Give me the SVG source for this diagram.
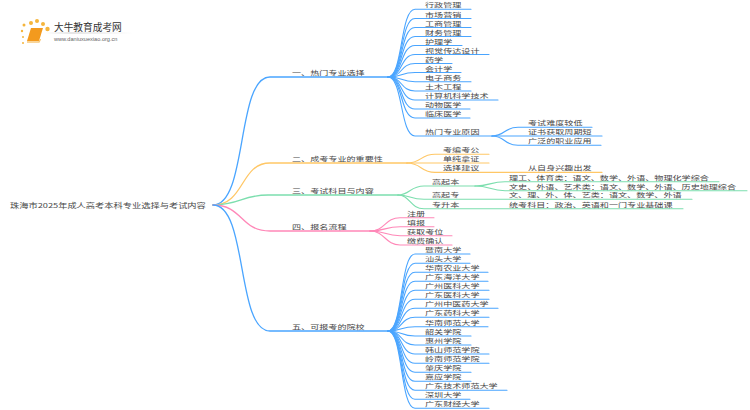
<svg xmlns="http://www.w3.org/2000/svg" width="750" height="410" viewBox="0 0 750 410">
<style>
text{font-family:"Noto Sans CJK SC","Liberation Sans",sans-serif;font-size:9.1px;fill:#4a4a4a}
#connectors path{fill:none;stroke-width:1.1;stroke-linecap:round}
.b path,path.b{stroke:#4aa5ff}
.o path,path.o{stroke:#ffc766}
.g path,path.g{stroke:#7cdeae}
.p path,path.p{stroke:#ff88b8}
#connectors .t{stroke-width:1.3}
#logo .d{fill:#f5b53c}
</style>
<rect width="750" height="410" fill="#fff"/>
<defs><linearGradient id="fade"><stop offset="0" stop-color="#ccc" stop-opacity="0"/><stop offset=".3" stop-color="#ccc"/><stop offset="1" stop-color="#ccc" stop-opacity="0"/></linearGradient></defs>
<g id="logo">
<circle class="d" cx="22" cy="31" r="1.2"/><circle class="d" cx="23" cy="37" r="1"/><circle class="d" cx="24" cy="25" r="1.5"/><circle class="d" cx="31" cy="23" r="2"/><circle class="d" cx="37" cy="21" r="2"/><circle class="d" cx="43" cy="24" r="2"/><circle class="d" cx="47.500" cy="29" r="2.200"/><circle class="d" cx="23" cy="43" r="1"/>
<path d="M31 28H43L39 41H27Z" fill="#f39a1e"/><path d="M27 42H39L40.500 39" fill="none" stroke="#f7c878" stroke-width="1.500"/>
<rect x="45" y="32.500" width="88" height="1" fill="url(#fade)"/>
<text transform="translate(54 31)" style="font-size:9.700px;fill:#333">大牛教育成考网</text>
<text transform="translate(54 41)" style="font-size:5.600px;font-family:'Liberation Sans',sans-serif;fill:#666">www.daniuxuexiao.org.cn</text>
</g>
<g id="connectors">
<g class="t">
<path class="b t" d="M213 205C248 205 236 77 270 77H388"/>
<path class="o t" d="M213 205C245 205 240 163 270 163H407"/>
<path class="g t" d="M213 205C240 205 242 195 268 195H398"/>
<path class="p t" d="M213 205C243 205 240 231 270 231H370"/>
<path class="b t" d="M213 205C248 205 236 331 270 331H388"/>
</g>
<g class="b">
<path d="M388 77C403 77 400 9.300 415 9.300H471"/><path d="M388 77C403 77 400 18.500 415 18.500H471"/><path d="M388 77C403 77 400 27.500 415 27.500H471"/><path d="M388 77C403 77 400 36.500 415 36.500H471"/><path d="M388 77C403 77 400 45.500 415 45.500H462"/><path d="M388 77C403 77 400 54.500 415 54.500H489"/><path d="M388 77C403 77 400 63.500 415 63.500H452"/><path d="M388 77C403 77 400 72.500 415 72.500H461"/><path d="M388 77C403 77 400 81.700 415 81.700H471"/><path d="M388 77C403 77 400 91 415 91H471"/><path d="M388 77C403 77 400 100 415 100H498"/><path d="M388 77C403 77 400 109 415 109H470"/><path d="M388 77C403 77 400 118 415 118H470"/><path d="M388 77C403 77 400 136 415 136H492"/>
<path d="M492 136C505 136 504 127.300 518 127.300H592"/><path d="M492 136H602"/><path d="M492 136C505 136 504 145.300 518 145.300H601"/>
</g>
<g class="o">
<path d="M407 163C422 163 420 154.300 435 154.300H489"/><path d="M407 163H489"/><path d="M407 163C422 163 420 172.400 435 172.400H602"/>
</g>
<g class="g">
<path d="M398 195C410 195 410 186 424 186H475"/><path d="M398 195C410 195 410 199.300 424 199.300H692"/><path d="M398 195C410 195 410 208.700 424 208.700H683"/>
<path d="M475 186C490 186 490 181.700 505 181.700H719"/><path d="M475 186C490 186 490 190.700 505 190.700H747"/>
</g>
<g class="p">
<path d="M370 231C385 231 385 217.700 400 217.700H434"/><path d="M370 231C385 231 385 226.700 400 226.700H434"/><path d="M370 231C385 231 385 235.700 400 235.700H452"/><path d="M370 231C385 231 385 245 400 245H452"/>
</g>
<g class="b">
<path d="M388 331C403 331 400 254 415 254H470"/><path d="M388 331C403 331 400 263.300 415 263.300H470"/><path d="M388 331C403 331 400 272.300 415 272.300H488"/><path d="M388 331C403 331 400 281.300 415 281.300H488"/><path d="M388 331C403 331 400 290.300 415 290.300H489"/><path d="M388 331C403 331 400 299.300 415 299.300H489"/><path d="M388 331C403 331 400 308.300 415 308.300H498"/><path d="M388 331C403 331 400 317.300 415 317.300H489"/><path d="M388 331C403 331 400 326.700 415 326.700H488"/><path d="M388 331C403 331 400 336 415 336H471"/><path d="M388 331C403 331 400 345 415 345H471"/><path d="M388 331C403 331 400 354 415 354H489"/><path d="M388 331C403 331 400 363.300 415 363.300H489"/><path d="M388 331C403 331 400 372.300 415 372.300H471"/><path d="M388 331C403 331 400 381.300 415 381.300H471"/><path d="M388 331C403 331 400 390.300 415 390.300H507"/><path d="M388 331C403 331 400 399.300 415 399.300H470"/><path d="M388 331C403 331 400 408.300 415 408.300H489"/>
</g>
</g>
<g id="root"><text transform="matrix(1 0 0 .68 10 207.800)" style="font-size:9.250px">珠海市2025年成人高考本科专业选择与考试内容</text></g>
<g id="branch-1" transform="translate(0 -1)"><text transform="matrix(1 0 0 .68 292 76)">一、热门专业选择</text>
<text transform="matrix(1 0 0 .68 425 8.300)">行政管理</text><text transform="matrix(1 0 0 .68 425 17.500)">市场营销</text><text transform="matrix(1 0 0 .68 425 26.500)">工商管理</text><text transform="matrix(1 0 0 .68 425 35.500)">财务管理</text><text transform="matrix(1 0 0 .68 425 44.500)">护理学</text><text transform="matrix(1 0 0 .68 425 53.500)">视觉传达设计</text><text transform="matrix(1 0 0 .68 425 62.500)">药学</text><text transform="matrix(1 0 0 .68 425 71.500)">会计学</text><text transform="matrix(1 0 0 .68 425 80.700)">电子商务</text><text transform="matrix(1 0 0 .68 425 90)">土木工程</text><text transform="matrix(1 0 0 .68 425 99)">计算机科学技术</text><text transform="matrix(1 0 0 .68 425 108)">动物医学</text><text transform="matrix(1 0 0 .68 425 117)">临床医学</text><text transform="matrix(1 0 0 .68 425 135)">热门专业原因</text>
<text transform="matrix(1 0 0 .68 528 126.300)">考试难度较低</text><text transform="matrix(1 0 0 .68 528 135.300)">证书获取周期短</text><text transform="matrix(1 0 0 .68 528 144.300)">广泛的职业应用</text></g>
<g id="branch-2" transform="translate(0 -1)"><text transform="matrix(1 0 0 .68 292 162)">二、成考专业的重要性</text>
<text transform="matrix(1 0 0 .68 443 153.300)">考编考公</text><text transform="matrix(1 0 0 .68 443 162.300)">单纯拿证</text><text transform="matrix(1 0 0 .68 443 171.400)">选择建议</text><text transform="matrix(1 0 0 .68 528 171.400)">从自身兴趣出发</text></g>
<g id="branch-3" transform="translate(0 -1)"><text transform="matrix(1 0 0 .68 292 194)">三、考试科目与内容</text>
<text transform="matrix(1 0 0 .68 432 185)">高起本</text><text transform="matrix(1 0 0 .68 432 198.300)">高起专</text><text transform="matrix(1 0 0 .68 432 207.700)">专升本</text>
<text transform="matrix(1 0 0 .68 509 180.700)">理工、体育类：语文、数学、外语、物理化学综合</text><text transform="matrix(1 0 0 .68 509 189.700)">文史、外语、艺术类：语文、数学、外语、历史地理综合</text><text transform="matrix(1 0 0 .68 509 198.300)">文、理、外、体、艺类：语文、数学、外语</text><text transform="matrix(1 0 0 .68 509 207.700)">统考科目：政治、英语和一门专业基础课</text></g>
<g id="branch-4" transform="translate(0 -1)"><text transform="matrix(1 0 0 .68 292 230)">四、报名流程</text>
<text transform="matrix(1 0 0 .68 407 216.700)">注册</text><text transform="matrix(1 0 0 .68 407 225.700)">填报</text><text transform="matrix(1 0 0 .68 407 234.700)">获取考位</text><text transform="matrix(1 0 0 .68 407 244)">缴费确认</text></g>
<g id="branch-5" transform="translate(0 -1)"><text transform="matrix(1 0 0 .68 292 330)">五、可报考的院校</text>
<text transform="matrix(1 0 0 .68 425 253)">暨南大学</text><text transform="matrix(1 0 0 .68 425 262.300)">汕头大学</text><text transform="matrix(1 0 0 .68 425 271.300)">华南农业大学</text><text transform="matrix(1 0 0 .68 425 280.300)">广东海洋大学</text><text transform="matrix(1 0 0 .68 425 289.300)">广州医科大学</text><text transform="matrix(1 0 0 .68 425 298.300)">广东医科大学</text><text transform="matrix(1 0 0 .68 425 307.300)">广州中医药大学</text><text transform="matrix(1 0 0 .68 425 316.300)">广东药科大学</text><text transform="matrix(1 0 0 .68 425 325.700)">华南师范大学</text><text transform="matrix(1 0 0 .68 425 335)">韶关学院</text><text transform="matrix(1 0 0 .68 425 344)">惠州学院</text><text transform="matrix(1 0 0 .68 425 353)">韩山师范学院</text><text transform="matrix(1 0 0 .68 425 362.300)">岭南师范学院</text><text transform="matrix(1 0 0 .68 425 371.300)">肇庆学院</text><text transform="matrix(1 0 0 .68 425 380.300)">嘉应学院</text><text transform="matrix(1 0 0 .68 425 389.300)">广东技术师范大学</text><text transform="matrix(1 0 0 .68 425 398.300)">深圳大学</text><text transform="matrix(1 0 0 .68 425 407.300)">广东财经大学</text></g>
</svg>
